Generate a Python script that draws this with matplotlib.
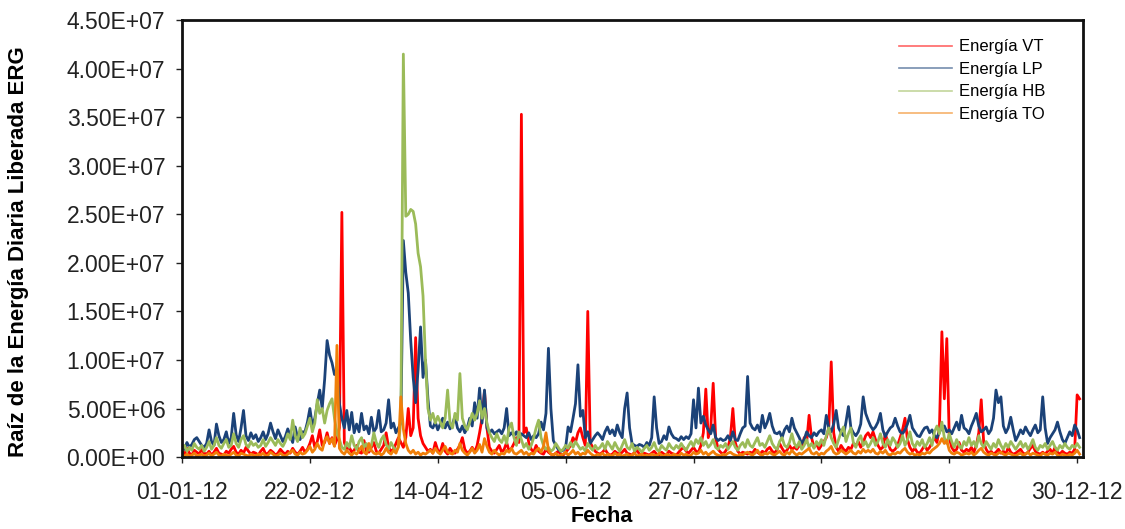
import matplotlib
matplotlib.use("Agg")
import matplotlib.pyplot as plt
import matplotlib.dates as mdates
from matplotlib.ticker import FuncFormatter, MultipleLocator
import numpy as np
import pandas as pd

plt.rcParams['font.family'] = ['Liberation Sans', 'DejaVu Sans']

# daily values for 2012, in millions
fechas = pd.date_range('2012-01-01', '2012-12-31', freq='D')

energia_vt = [
    0.6, 0.3, 0.9, 0.4, 0.2, 0.7, 0.5, 0.3, 0.8, 0.4,
    0.3, 0.6, 0.2, 0.5, 0.9, 0.4, 0.3, 0.2, 0.6, 0.4,
    0.8, 1.1, 0.5, 0.3, 0.7, 0.4, 1.0, 0.6, 0.3, 0.5,
    0.4, 0.2, 0.6, 0.9, 0.3, 0.4, 0.7, 0.5, 0.2, 0.4,
    0.8, 0.5, 0.3, 0.6, 0.4, 0.9, 0.5, 0.3, 0.6, 1.0,
    0.5, 0.8, 1.4, 2.2, 1.0, 1.6, 2.8, 1.2, 1.5, 2.5,
    1.4, 2.0, 1.2, 1.8, 3.0, 25.2, 1.5, 0.8, 1.0, 0.5,
    0.7, 1.2, 0.5, 0.4, 1.7, 0.6, 0.5, 1.0, 1.5, 0.6,
    0.4, 0.8, 1.2, 2.5, 1.0, 0.6, 0.8, 1.4, 2.0, 1.5,
    1.0, 2.0, 5.0, 2.2, 3.0, 12.3, 4.0, 2.2, 1.4, 1.0,
    0.6, 0.8, 0.4, 1.5, 0.7, 0.5, 1.4, 0.6, 0.3, 0.9,
    0.5, 0.4, 0.8, 1.2, 2.0, 0.8, 0.4, 0.6, 1.0, 0.5,
    1.2, 2.5, 4.0, 6.8, 3.0, 1.0, 0.6, 0.4, 0.8, 1.2,
    0.5, 0.8, 1.5, 0.6, 0.9, 1.4, 2.0, 1.5, 35.3, 2.5,
    3.0, 1.5, 0.8, 0.5, 1.2, 0.6, 0.4, 0.3, 0.8, 0.5,
    0.3, 0.2, 0.4, 0.6, 0.3, 0.2, 0.5, 0.8, 1.2, 2.0,
    1.5, 2.5, 3.0, 2.0, 1.2, 15.0, 1.5, 1.0, 0.6, 0.4,
    0.3, 0.5, 0.8, 0.4, 0.2, 0.3, 0.6, 0.4, 0.3, 0.5,
    0.8, 0.4, 0.3, 0.2, 0.5, 0.7, 0.3, 0.2, 0.4, 0.3,
    0.2, 0.4, 0.6, 0.3, 0.2, 0.5, 0.3, 0.2, 0.6, 0.4,
    0.3, 0.2, 0.5, 0.8, 1.0, 0.6, 0.4, 0.7, 1.0, 0.6,
    0.5, 1.2, 2.5, 7.0, 2.0, 3.0, 7.6, 2.0, 0.8, 0.5,
    0.3, 0.6, 1.0, 2.0, 5.0, 1.5, 0.6, 0.3, 0.5, 0.4,
    0.3, 0.5, 0.4, 0.8, 0.5, 0.3, 0.6, 0.4, 0.8, 1.0,
    0.6, 0.4, 0.8, 1.4, 0.9, 0.5, 0.7, 1.2, 0.8, 1.0,
    0.8, 1.2, 1.0, 2.0, 1.5, 4.3, 2.0, 1.0, 1.4, 0.8,
    1.2, 1.6, 2.0, 3.0, 9.8, 2.5, 1.0, 0.6, 1.2, 0.8,
    0.6, 1.0, 0.8, 1.4, 1.2, 1.6, 1.0, 1.5, 2.2, 2.5,
    2.0, 2.6, 1.8, 1.2, 0.8, 1.0, 2.4, 1.5, 0.8, 0.6,
    0.8, 1.2, 2.0, 2.8, 4.0, 1.8, 1.0, 0.6, 0.9, 0.5,
    0.4, 0.8, 1.2, 0.7, 1.0, 1.5, 2.0, 1.5, 3.0, 12.9,
    6.0, 12.2, 2.0, 1.0, 0.6, 0.8, 1.5, 0.7, 0.5, 0.8,
    0.6, 1.0, 0.5, 1.2, 2.5, 5.9, 1.5, 0.8, 0.4, 0.6,
    0.3, 0.5, 0.8, 0.4, 0.6, 0.3, 1.0, 0.5, 0.3, 0.4,
    0.6, 0.8, 0.4, 0.3, 0.5, 0.9, 1.2, 0.6, 0.4, 0.3,
    0.5, 0.3, 0.6, 0.8, 0.4, 1.0, 0.5, 0.3, 0.6, 0.4,
    0.3, 0.5, 0.4, 0.8, 6.4, 6.0,
]

energia_lp = [
    1.2, 0.8, 1.5, 1.0, 1.3, 1.8, 2.0, 1.6, 1.2, 1.0,
    1.4, 2.8, 1.6, 1.2, 3.4, 2.2, 1.5, 1.8, 2.6, 1.4,
    2.0, 4.5, 2.3, 1.6, 3.0, 4.8, 2.2, 1.7, 2.5, 1.9,
    2.3, 1.6, 2.0, 2.6, 1.8, 2.4, 3.5, 2.6, 1.9, 2.8,
    2.2, 1.6, 2.1, 2.9, 2.2, 1.5, 3.1, 2.0, 1.8, 2.6,
    2.6, 3.6, 5.0, 3.2, 4.0, 5.5, 6.9, 5.0, 8.0, 12.0,
    10.5, 9.7, 8.5, 9.0, 5.5, 4.0, 3.0, 4.8, 2.8, 4.6,
    2.5, 3.4, 2.6, 4.5, 2.8, 3.2, 2.4, 4.1, 2.6, 3.0,
    4.8, 2.6, 2.8, 3.5, 5.9, 3.0, 3.5, 2.5, 3.0, 3.5,
    22.3, 19.0, 16.9, 12.0, 8.2, 5.6, 9.0, 13.4, 8.2, 10.0,
    6.0, 3.2, 3.0, 3.6, 2.8, 3.4, 4.0, 3.0, 3.6, 2.9,
    3.4, 4.2, 3.0, 2.6, 3.2, 2.5, 3.0, 4.0, 3.2, 5.6,
    4.0, 7.1, 3.5, 6.9, 3.0, 2.5, 2.8, 2.4, 2.6, 2.8,
    2.4, 3.0, 5.0, 2.2, 2.5, 2.2, 2.6, 2.0, 2.4, 2.2,
    2.0, 2.5, 1.8, 2.2, 2.0, 2.4, 3.6, 2.8, 4.5, 11.2,
    5.0, 1.7, 1.2, 0.8, 0.6, 0.7, 1.0, 3.1, 2.6, 4.0,
    5.5, 9.5, 4.2, 4.8, 2.0, 2.6, 1.4, 1.8, 2.2, 2.5,
    2.2, 1.8, 2.6, 3.1, 2.4, 2.8, 2.2, 3.3, 2.5, 2.0,
    5.0, 6.6, 3.0, 1.4, 1.2, 1.1, 1.3, 1.2, 1.0, 1.5,
    1.2, 2.0, 6.2, 3.0, 1.4, 1.6, 2.2, 1.8, 3.1, 2.4,
    2.0, 1.9, 1.7, 2.1, 1.8, 2.1, 1.9, 2.4, 5.9, 3.0,
    7.1, 3.5, 4.2, 3.3, 2.8, 2.4, 3.3, 2.0, 1.7, 1.9,
    1.7, 1.8, 2.2, 1.7, 2.6, 1.8, 1.7, 2.4, 3.0, 3.2,
    8.3, 3.5, 3.0, 2.8, 3.3, 2.6, 4.3, 3.0, 3.6, 4.5,
    3.2, 2.5, 2.4, 2.6, 2.0, 2.8, 3.2, 2.6, 4.0, 3.0,
    2.5, 2.0, 1.4, 1.8, 2.6, 2.2, 2.0, 2.5, 2.2, 2.6,
    2.8, 2.4, 4.3, 3.0, 2.6, 3.4, 4.8, 3.0, 2.5, 2.2,
    3.6, 5.2, 3.0, 2.5, 2.2, 2.6, 3.4, 6.2, 4.5, 3.8,
    3.2, 2.8, 3.1, 3.6, 4.5, 2.8, 2.1, 2.6, 3.0, 3.2,
    4.0, 3.2, 2.6, 2.4, 2.8, 3.4, 4.3, 3.0, 2.6, 2.2,
    2.1, 2.6, 3.0, 3.1, 2.5, 2.8, 2.2, 2.0, 2.6, 3.0,
    3.2, 2.6, 2.8, 2.4, 3.0, 3.6, 2.8, 4.3, 3.0, 2.8,
    2.4, 3.2, 3.8, 4.5, 3.2, 2.6, 2.8, 3.1, 2.4, 2.8,
    4.0, 6.9, 5.6, 6.2, 3.2, 2.5, 3.0, 4.1, 2.8, 1.7,
    2.2, 2.8, 2.4, 3.1, 2.6, 2.2, 2.8, 3.3, 2.5, 2.8,
    6.2, 3.0, 1.4, 2.0, 2.4, 2.8, 3.6, 2.6, 1.8, 1.4,
    2.0, 2.6, 2.2, 3.3, 2.8, 2.0,
]

energia_hb = [
    0.8, 1.2, 0.6, 1.0, 0.7, 1.4, 1.0, 0.8, 1.2, 0.6,
    1.0, 1.6, 0.8, 1.2, 2.0, 1.2, 0.9, 1.4, 1.8, 1.0,
    1.2, 2.4, 1.4, 1.0, 1.8, 2.2, 1.3, 1.0, 1.6, 1.2,
    1.4, 1.0, 1.2, 1.8, 1.1, 1.5, 2.0, 1.6, 1.2, 1.8,
    1.4, 1.1, 1.6, 2.4, 1.8, 3.8, 2.2, 1.6, 3.0, 2.0,
    2.4, 3.2, 4.0, 2.6, 3.5, 5.9, 4.5, 5.0, 3.5, 4.8,
    5.5, 6.0, 4.0, 2.5, 1.8, 1.0, 0.8, 1.5, 1.0, 2.2,
    1.2, 0.8, 1.6, 2.0, 1.0, 1.4, 0.7, 1.2, 2.5, 1.5,
    1.0, 1.8, 2.2, 1.3, 0.8, 1.5, 1.0, 0.6, 1.0, 4.0,
    41.5, 24.8, 25.0, 25.5, 25.3, 24.0, 21.0, 19.6, 16.6, 10.0,
    5.0, 3.8, 4.5, 3.5, 4.2, 3.6, 3.0, 4.0, 6.9, 3.5,
    3.0, 4.5, 3.8, 8.6, 4.0, 3.2, 2.8, 3.6, 4.5, 3.8,
    4.5, 5.8, 4.0, 5.0, 3.5, 2.5, 2.0, 1.6, 2.4, 1.8,
    1.5, 2.2, 1.4, 3.0, 3.5, 2.0, 1.2, 2.6, 1.8, 1.0,
    1.4, 0.8, 1.2, 2.0, 3.0, 3.8, 2.0, 1.2, 0.8, 1.0,
    0.6, 0.8, 1.4, 1.0, 0.6, 0.8, 1.2, 0.9, 1.5, 1.0,
    1.6, 1.2, 0.8, 1.0, 0.6, 1.4, 1.0, 0.7, 1.2, 0.8,
    1.0, 1.4, 0.8, 1.6, 1.2, 0.8, 1.5, 1.0, 0.6, 1.2,
    1.8, 1.0, 0.8, 1.4, 0.6, 1.0, 0.8, 0.5, 0.9, 1.2,
    0.7, 1.0, 1.5, 0.8, 0.6, 1.2, 0.9, 0.7, 1.4, 1.0,
    0.8, 1.2, 0.9, 1.4, 1.0, 0.7, 1.2, 1.6, 1.1, 1.8,
    1.4, 2.0, 1.2, 1.6, 1.0, 1.3, 1.8, 1.0, 0.8, 1.2,
    1.0, 1.4, 0.8, 1.2, 1.6, 1.0, 0.7, 1.2, 1.5, 1.0,
    1.8, 1.2, 1.0, 1.5, 2.0, 1.2, 1.4, 1.0, 1.6, 2.2,
    1.4, 1.0, 0.8, 1.6, 2.0, 1.2, 1.0, 1.5, 2.4, 1.4,
    1.0, 1.6, 0.8, 1.2, 1.8, 1.0, 1.4, 0.9, 1.6, 1.2,
    1.8, 1.2, 2.2, 3.0, 2.0, 1.4, 1.0, 1.8, 2.6, 3.1,
    1.6, 2.4, 3.0, 1.5, 1.0, 1.8, 2.2, 1.2, 1.6, 1.0,
    1.4, 2.0, 1.2, 1.6, 2.4, 1.4, 1.0, 1.8, 1.2, 2.0,
    1.6, 1.0, 1.4, 2.2, 1.2, 1.8, 2.6, 1.4, 1.0, 1.6,
    1.2, 1.8, 1.0, 1.4, 2.0, 1.2, 2.6, 3.2, 2.4, 3.6,
    2.0, 1.4, 2.4, 1.6, 1.0, 1.8, 1.2, 0.9, 1.6, 1.2,
    2.0, 1.2, 1.6, 1.0, 2.2, 1.4, 1.0, 1.6, 1.2, 0.8,
    1.4, 1.0, 1.8, 1.2, 0.8, 1.4, 1.0, 1.6, 1.2, 0.8,
    1.2, 1.6, 1.0, 1.4, 0.8, 1.2, 1.8, 1.0, 0.7, 1.2,
    1.0, 1.4, 0.8, 1.2, 1.6, 1.0, 0.7, 1.2, 0.9, 1.4,
    1.0, 0.8, 1.2, 1.0, 1.4, 1.0,
]

energia_to = [
    0.2, 0.1, 0.3, 0.1, 0.2, 0.4, 0.1, 0.2, 0.3, 0.1,
    0.2, 0.4, 0.1, 0.3, 0.5, 0.2, 0.1, 0.3, 0.2, 0.1,
    0.3, 0.5, 0.2, 0.1, 0.4, 0.3, 0.2, 0.1, 0.3, 0.2,
    0.1, 0.3, 0.2, 0.4, 0.1, 0.2, 0.5, 0.3, 0.1, 0.2,
    0.4, 0.2, 0.1, 0.3, 0.5, 0.7, 0.3, 0.2, 0.5, 0.3,
    0.4, 0.7, 1.1, 0.5, 0.8, 1.4, 0.9, 0.7, 1.7, 2.1,
    1.4, 1.9, 1.1, 11.5, 0.9, 0.5, 0.3, 0.7, 0.4, 0.2,
    0.5, 0.3, 0.7, 1.1, 0.5, 0.3, 1.4, 0.7, 0.4, 0.3,
    0.5, 0.2, 0.4, 0.9, 0.5, 0.3, 0.7, 0.4, 1.1, 6.2,
    2.9, 1.4, 0.7, 0.4, 0.7, 0.3, 0.5, 0.2, 0.4, 0.3,
    0.5, 0.7, 0.4, 0.9, 0.5, 0.3, 0.7, 1.1, 0.5, 0.4,
    0.3, 0.7, 0.5, 1.4, 0.7, 0.4, 0.2, 0.5, 0.9, 0.4,
    0.7, 1.3, 0.5, 1.9, 1.1, 0.5, 0.3, 0.7, 0.4, 0.2,
    0.4, 0.3, 0.7, 0.5, 0.9, 0.4, 0.3, 0.5, 0.7, 0.3,
    0.5, 0.2, 0.4, 0.3, 0.7, 0.9, 0.5, 1.1, 2.5, 0.7,
    0.3, 0.2, 0.4, 0.1, 0.2, 0.3, 0.5, 0.2, 0.4, 0.7,
    0.3, 0.5, 0.2, 0.4, 0.3, 0.7, 0.4, 0.2, 0.1, 0.3,
    0.2, 0.4, 0.1, 0.3, 0.2, 0.1, 0.4, 0.2, 0.3, 0.1,
    0.2, 0.3, 0.1, 0.2, 0.4, 0.1, 0.2, 0.3, 0.1, 0.2,
    0.1, 0.3, 0.2, 0.1, 0.4, 0.2, 0.1, 0.3, 0.2, 0.1,
    0.3, 0.2, 0.1, 0.4, 0.2, 0.3, 0.1, 0.2, 0.5, 0.3,
    0.4, 0.7, 0.3, 0.5, 0.2, 0.4, 0.6, 0.3, 0.2, 0.1,
    0.3, 0.2, 0.4, 0.5, 0.3, 0.2, 0.1, 0.3, 0.2, 0.4,
    0.5, 0.3, 0.2, 0.4, 0.7, 0.3, 0.2, 0.4, 0.3, 0.5,
    0.3, 0.2, 0.4, 0.6, 0.3, 0.2, 0.5, 0.3, 0.7, 0.4,
    0.2, 0.4, 0.3, 0.5, 0.7, 0.9, 0.4, 0.3, 0.5, 0.2,
    0.4, 0.3, 0.6, 0.8, 1.1, 0.5, 0.3, 0.4, 0.7, 0.5,
    0.3, 0.5, 0.7, 0.4, 0.3, 0.6, 0.4, 0.8, 0.5, 0.7,
    0.5, 0.8, 0.4, 0.3, 0.6, 0.4, 0.7, 0.3, 0.2, 0.4,
    0.3, 0.5, 0.4, 0.7, 0.9, 0.5, 0.3, 0.4, 0.2, 0.3,
    0.2, 0.4, 0.3, 0.5, 0.4, 0.7, 0.9, 1.1, 1.4, 1.9,
    1.4, 1.7, 0.7, 0.4, 0.3, 0.5, 0.4, 0.2, 0.3, 0.4,
    0.3, 0.5, 0.2, 0.4, 0.7, 0.9, 0.5, 0.3, 0.2, 0.4,
    0.3, 0.2, 0.4, 0.5, 0.3, 0.2, 0.4, 0.3, 0.2, 0.1,
    0.3, 0.4, 0.2, 0.3, 0.5, 0.2, 0.4, 0.3, 0.2, 0.1,
    0.4, 0.3, 0.2, 0.4, 0.3, 0.5, 0.2, 0.1, 0.3, 0.2,
    0.1, 0.3, 0.2, 0.4, 0.7, 0.3,
]

tick_fechas = pd.date_range('2012-01-01', periods=8, freq='52D')

series = [
    ('Energía VT', energia_vt, '#ff0000'),
    ('Energía LP', energia_lp, '#1b4278'),
    ('Energía HB', energia_hb, '#9bbb59'),
    ('Energía TO', energia_to, '#f07f09'),
]

fig = plt.figure(figsize=(11.25, 5.29), dpi=100)
ax = fig.add_axes([0.1618, 0.136, 0.8009, 0.826])

for nombre, vals, color in series:
    ax.plot(fechas, np.array(vals) * 1e6, color=color, linewidth=2.0, label=nombre)

ax.set_ylim(0, 4.5e7)
ax.yaxis.set_major_locator(MultipleLocator(5e6))
ax.yaxis.set_major_formatter(FuncFormatter(lambda v, p: f'{v:.2E}'))
ax.set_xlim(fechas[0], fechas[-1] + pd.Timedelta(days=1.4))
ax.set_xticks(tick_fechas)
ax.xaxis.set_major_formatter(mdates.DateFormatter('%d-%m-%y'))

ax.tick_params(axis='both', labelsize=16.5, colors='#222222', direction='out', length=4, width=1)
ax.tick_params(axis='x', pad=13)
ax.tick_params(axis='y', pad=8)
for s in ax.spines.values():
    s.set_linewidth(2)
    s.set_color('#111111')

ax.set_xlabel('Fecha', fontsize=15.5, fontweight='bold')
ax.xaxis.set_label_coords(0.466, -0.112)
ax.set_ylabel('Raíz de la Energía Diaria Liberada ERG', fontsize=16, fontweight='bold')
ax.yaxis.set_label_coords(-0.170, 0.47)

leg = ax.legend(loc='upper right', bbox_to_anchor=(0.975, 0.99), frameon=False,
                fontsize=12, handlelength=3.2, labelspacing=0.45, handletextpad=0.4)
for ln in leg.get_lines():
    ln.set_linewidth(1.2)
    ln.set_alpha(0.6)

fig.savefig('out.png', dpi=100)
